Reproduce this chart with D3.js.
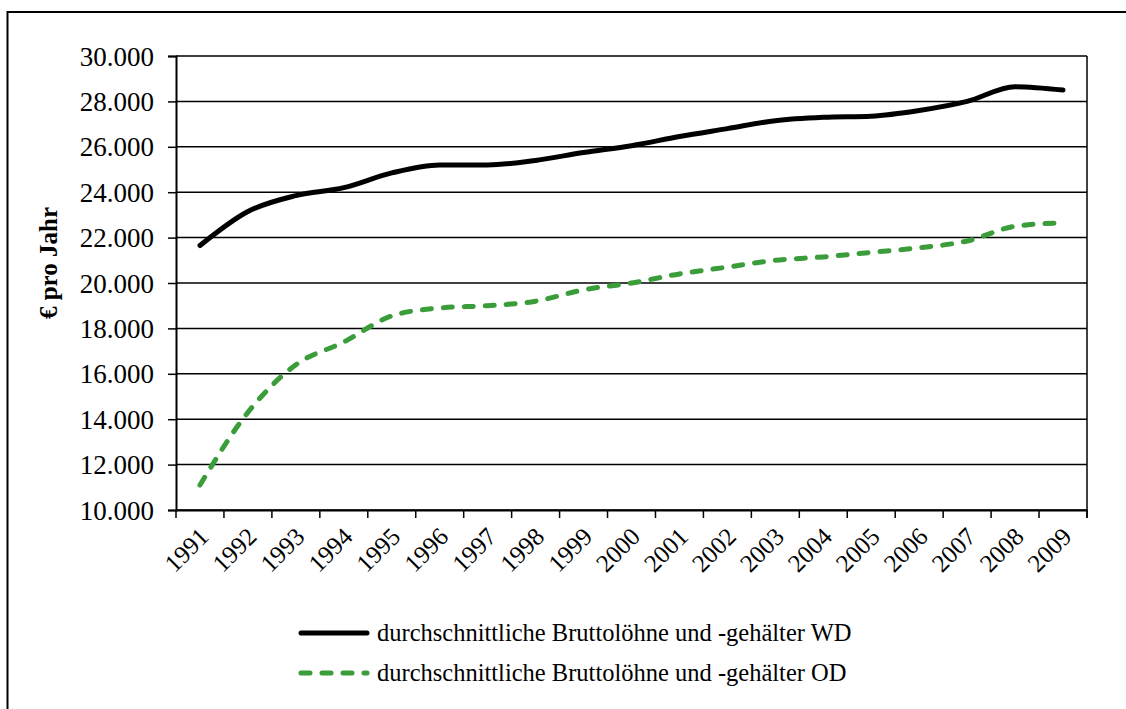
<!DOCTYPE html>
<html>
<head>
<meta charset="utf-8">
<script src="https://cdn.jsdelivr.net/npm/d3@7"></script>
<style>
  html, body { margin: 0; padding: 0; background: #fff; }
  svg { display: block; }
  text { font-family: "Liberation Serif", "Times New Roman", serif; fill: #000; }
</style>
</head>
<body>
<svg id="chart" width="1126" height="709"></svg>
<script>
const years = ["1991","1992","1993","1994","1995","1996","1997","1998","1999","2000",
               "2001","2002","2003","2004","2005","2006","2007","2008","2009"];
const wdValues = [21650, 23150, 23850, 24200, 24850, 25200, 25200, 25400, 25750, 26050,
                  26450, 26800, 27150, 27300, 27350, 27600, 28000, 28650, 28500];
const odValues = [11100, 14300, 16400, 17400, 18550, 18900, 19000, 19200, 19700, 20000,
                  20400, 20700, 21000, 21150, 21350, 21550, 21850, 22500, 22650];
const yTicks = [10000, 12000, 14000, 16000, 18000, 20000, 22000, 24000, 26000, 28000, 30000];
const seriesNames = ["durchschnittliche Bruttolöhne und -gehälter WD",
                     "durchschnittliche Bruttolöhne und -gehälter OD"];
const yTitle = "€ pro Jahr";

const svg = d3.select("#chart");
const m = { left: 176, right: 1087, top: 56, bottom: 510 };

// outer frame
svg.append("rect").attr("x", 7.5).attr("y", 12).attr("width", 1140).attr("height", 720)
  .attr("fill", "none").attr("stroke", "#000").attr("stroke-width", 2);

const x = d3.scaleBand().domain(years).range([m.left, m.right]).padding(0);
const y = d3.scaleLinear().domain([10000, 30000]).range([m.bottom, m.top]);

const fmt3 = v => d3.format(",.0f")(v).replace(/,/g, ".");

// gridlines
svg.append("g").selectAll("line").data(yTicks).join("line")
  .attr("x1", m.left).attr("x2", m.right)
  .attr("y1", d => y(d)).attr("y2", d => y(d))
  .attr("stroke", "#000").attr("stroke-width", 1.5);

// right border
svg.append("line").attr("x1", m.right).attr("x2", m.right).attr("y1", m.top).attr("y2", m.bottom + 8)
  .attr("stroke", "#000").attr("stroke-width", 1.5);

// y axis
const yAxis = svg.append("g").attr("transform", `translate(${m.left},0)`)
  .call(d3.axisLeft(y).tickValues(yTicks).tickSize(8).tickPadding(14).tickFormat(fmt3));
yAxis.select(".domain").attr("stroke-width", 2);
yAxis.selectAll(".tick line").attr("stroke-width", 1.5);
yAxis.selectAll("text").style("font-size", "27px").attr("dy", "0.34em");

// x axis
const xAxis = svg.append("g").attr("transform", `translate(0,${m.bottom})`)
  .call(d3.axisBottom(x).tickSize(0).tickSizeOuter(0));
xAxis.select(".domain").attr("stroke-width", 2);
xAxis.selectAll(".tick line").remove();
xAxis.selectAll("text")
  .style("font-size", "25px")
  .attr("text-anchor", "end")
  .attr("dy", "0.35em")
  .attr("transform", "translate(4,22) rotate(-45)")
  .attr("x", 0).attr("y", 0);
// tick marks at band boundaries
const bounds = years.map(d => x(d)).concat([x(years[years.length - 1]) + x.bandwidth()]);
svg.append("g").selectAll("line").data(bounds).join("line")
  .attr("x1", d => d).attr("x2", d => d)
  .attr("y1", m.bottom).attr("y2", m.bottom + 8)
  .attr("stroke", "#000").attr("stroke-width", 1.5);

// y title
svg.append("text").attr("transform", `translate(57,263) rotate(-90)`)
  .attr("text-anchor", "middle").style("font-size", "25px").style("font-weight", "bold")
  .text(yTitle);

// lines
const line = d3.line()
  .x((d, i) => x(years[i]) + x.bandwidth() / 2)
  .y(d => y(d))
  .curve(d3.curveMonotoneX);

svg.append("path").datum(wdValues).attr("d", line)
  .attr("fill", "none").attr("stroke", "#000").attr("stroke-width", 5)
  .attr("stroke-linecap", "round").attr("stroke-linejoin", "round");

svg.append("path").datum(odValues).attr("d", line)
  .attr("fill", "none").attr("stroke", "#3a9d3a").attr("stroke-width", 5)
  .attr("stroke-dasharray", "9,12")
  .attr("stroke-linecap", "round").attr("stroke-linejoin", "round");

// legend
const leg = svg.append("g");
const legY = [633, 673];
leg.append("line").attr("x1", 301).attr("x2", 367).attr("y1", legY[0]).attr("y2", legY[0])
  .attr("stroke", "#000").attr("stroke-width", 5).attr("stroke-linecap", "round");
leg.append("line").attr("x1", 301).attr("x2", 367).attr("y1", legY[1]).attr("y2", legY[1])
  .attr("stroke", "#3a9d3a").attr("stroke-width", 5).attr("stroke-dasharray", "9,12")
  .attr("stroke-linecap", "round");
leg.selectAll("text").data(seriesNames).join("text")
  .attr("x", 377).attr("y", (d, i) => legY[i]).attr("dy", "0.33em")
  .style("font-size", "24.5px").text(d => d);
</script>
</body>
</html>
